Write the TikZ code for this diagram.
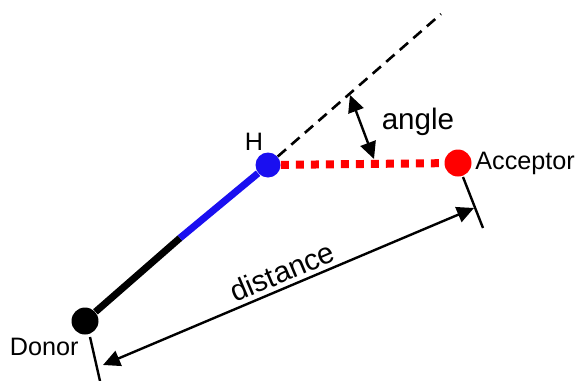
\documentclass[tikz,border=0pt]{standalone}
\usepackage{fontspec}
\setmainfont{Liberation Sans}
\usetikzlibrary{arrows.meta,positioning,calc}
\definecolor{cB}{HTML}{1a0ff0}
\definecolor{cR}{HTML}{ff0000}
\tikzset{
  atom/.style={circle,inner sep=0pt,minimum size=13.5pt},
  bond/.style={line width=3.5pt},
  hbond/.style={line width=4pt,cR,dash pattern=on 4pt off 3.5pt},
  guide/.style={line width=1.3pt,dash pattern=on 5.5pt off 3.5pt},
  tick/.style={line width=1.2pt},
  measure/.style={{Triangle[length=8.5pt,width=8pt]}-{Triangle[length=8.5pt,width=8pt]},line width=1.2pt},
  lbl/.style={font=\fontsize{12.6}{15}\selectfont,inner sep=1pt},
  biglbl/.style={font=\fontsize{14.8}{17}\selectfont,inner sep=1pt},
}
\begin{document}
\begin{tikzpicture}[x=0.5pt,y=-0.5pt]
  \useasboundingbox (0,0) rectangle (580,381);
  % atoms
  \node[atom,fill=black] (donor) at (85,321){};
  \node[atom,fill=cB,minimum size=12.5pt] (h) at (268,165){};
  \node[atom,fill=cR] (acc) at (458,163){};
  \coordinate (mid) at (180,238);
  \coordinate (far) at (441,14);
  % bonds
  \draw[bond,black] (donor) -- (mid);
  \draw[bond,cB] (mid) -- (h);
  \draw[hbond] (h) -- (acc);
  \draw[guide] (h) -- (far);
  % labels
  \node[lbl,anchor=south] at (254,153) {H};
  \node[lbl,anchor=west] at (473,163) {Acceptor};
  \node[lbl,anchor=east] at (81,347) {Donor};
  % angle
  \coordinate (a1) at (350,95);
  \coordinate (a2) at (374,159);
  \draw[measure] (a1) -- (a2);
  \node[biglbl] at (418,122) {angle};
  % distance
  \coordinate (dt1) at (90,337);
  \coordinate (dt2) at (100,381);
  \coordinate (at1) at (463,177);
  \coordinate (at2) at (483,228);
  \draw[tick] (dt1) -- (dt2);
  \draw[tick] (at1) -- (at2);
  \coordinate (d1) at (103,365);
  \coordinate (d2) at (474,208);
  \draw[measure] (d1) -- node[biglbl,sloped,above=1pt] {distance} (d2);
\end{tikzpicture}
\end{document}
